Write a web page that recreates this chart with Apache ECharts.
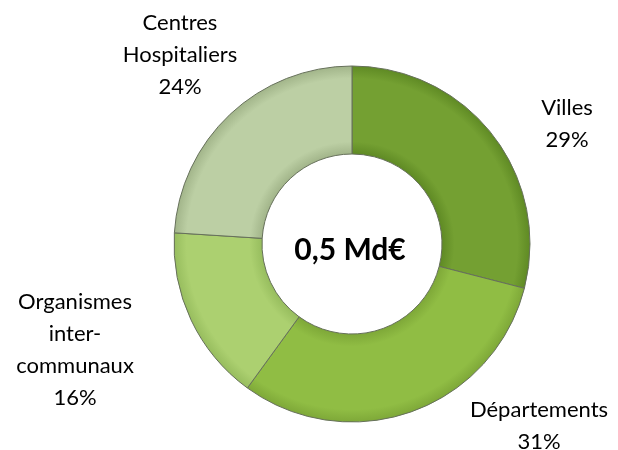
<!DOCTYPE html>
<html>
<head>
<meta charset="utf-8">
<script src="https://cdn.jsdelivr.net/npm/echarts@6/dist/echarts.min.js"></script>
<style>
  html, body { margin: 0; padding: 0; background: #fff; }
  #chart { width: 618px; height: 450px; }
</style>
</head>
<body>
<div id="chart"></div>
<script>
const categories = ["Villes", "Départements", "Organismes\ninter-\ncommunaux", "Centres\nHospitaliers"];
const shares = [29, 31, 16, 24];
const totalLabel = "0,5 Md€";

// slice colours: [edge, body]
const colors = [
  ["#5f8a24", "#74a032"],
  ["#7ea838", "#90bd44"],
  ["#97bd5e", "#acd070"],
  ["#a2b58a", "#bccfa4"]
];
// where Excel put each label (centre of the text block)
const labelSpots = [[567, 124], [539, 426], [75, 350], [180, 55]];

const cx = 352, cy = 244, rOut = 178, rIn = 90;

// soft bevel: darker at the inner and outer rims
function bevel(c) {
  const k = rIn / rOut;
  return new echarts.graphic.RadialGradient(cx, cy, rOut, [
    { offset: k, color: c[0] },
    { offset: k + 0.07, color: c[1] },
    { offset: 0.93, color: c[1] },
    { offset: 1, color: c[0] }
  ], true);
}

const chart = echarts.init(document.getElementById("chart"));
chart.setOption({
  animation: false,
  graphic: [
    {
      type: "text",
      x: 350,
      y: 250,
      style: {
        text: totalLabel,
        font: "bold 30px Lato",
        fill: "#000",
        align: "center",
        verticalAlign: "middle"
      }
    }
  ],
  series: [
    {
      type: "pie",
      center: [cx, cy],
      radius: [rIn, rOut],
      startAngle: 90,
      clockwise: true,
      data: categories.map((name, i) => ({
        name: name,
        value: shares[i],
        itemStyle: { color: bevel(colors[i]) }
      })),
      itemStyle: {
        borderColor: "#66705a",
        borderWidth: 1
      },
      label: {
        show: true,
        position: "outside",
        formatter: "{b}\n{c}%",
        fontFamily: "Lato",
        fontSize: 22,
        lineHeight: 32,
        color: "#000",
        align: "center"
      },
      labelLine: { show: false },
      labelLayout: (params) => ({
        x: labelSpots[params.dataIndex][0],
        y: labelSpots[params.dataIndex][1],
        align: "center",
        verticalAlign: "middle"
      }),
      emphasis: { disabled: true }
    }
  ]
});
</script>
</body>
</html>
